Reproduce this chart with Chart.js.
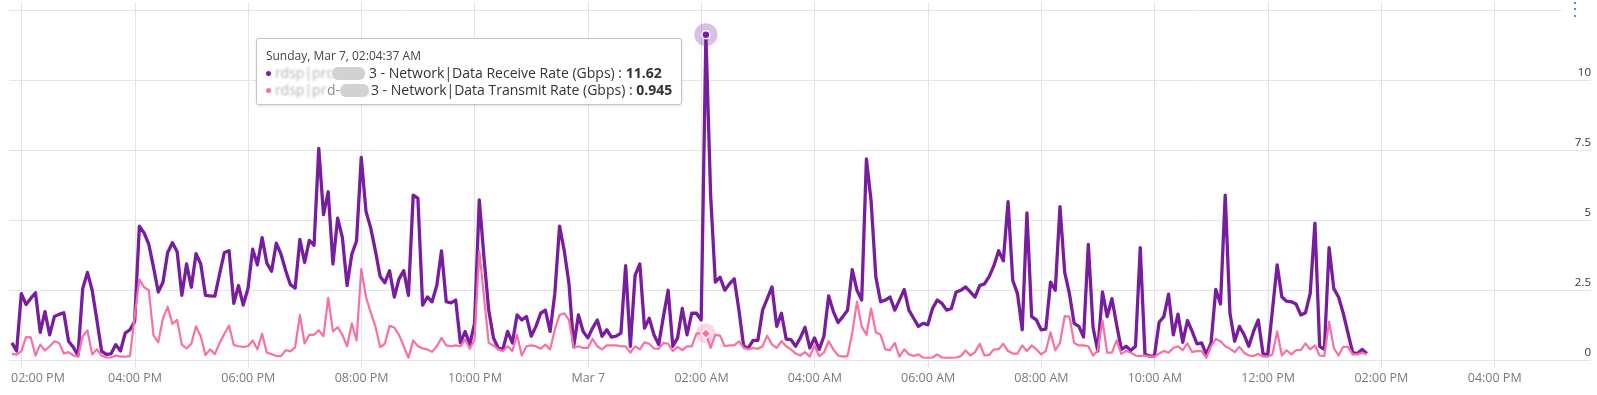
<!DOCTYPE html>
<html>
<head>
<meta charset="utf-8">
<title>Network data rate</title>
<script src="https://cdn.jsdelivr.net/npm/chart.js@4.4.1/dist/chart.umd.min.js"></script>
<style>
  html, body { margin: 0; padding: 0; background: #fff; }
  .chart-wrap { position: relative; width: 1597px; height: 395px; }
  .menu-btn { position: absolute; top: 0; left: 1562px; width: 35px; height: 19px; background: #fff; }
  .menu-btn span { position: absolute; left: 12px; width: 2.4px; height: 2.4px; border-radius: 50%; background: #0079b8; }
  #chart-tooltip {
    position: absolute; display: none; background: #fff;
    border: 1px solid #c4c4c4; border-radius: 3px;
    box-shadow: 0 1px 3px rgba(0, 0, 0, 0.12);
    padding: 9px 9px 6px 9px; white-space: nowrap; pointer-events: none;
    font-family: "Open Sans", sans-serif; color: #333;
  }
  .tt-title { font-size: 12px; line-height: 16px; color: #444; }
  .tt-row { font-size: 14px; line-height: 17px; }
  .tt-dot { display: inline-block; width: 5px; height: 5px; border-radius: 50%; margin-right: 4px; vertical-align: middle; position: relative; top: -1px; }
  .tt-blur { display: inline-block; overflow: hidden; vertical-align: bottom; color: #b4b4b4; filter: blur(1px); }
  .tt-soft { color: #8c8c8c; }
  .tt-mask { display: inline-block; height: 13px; border-radius: 6px; background: #d2d2d2; vertical-align: middle; position: relative; top: -1px; }
</style>
</head>
<body>
<div class="chart-wrap">
  <canvas id="rateChart"></canvas>
  <div class="menu-btn"><span style="top:2px"></span><span style="top:8px"></span><span style="top:14.5px"></span></div>
  <div id="chart-tooltip"></div>
</div>
<script>
// Network receive / transmit rate (Gbps), 5 minute samples starting Sat Mar 6, 01:49:37 PM

const START_SECONDS = 13 * 3600 + 49 * 60 + 37;
const STEP_SECONDS = 300;

const seriesNames = [
  "Network|Data Receive Rate (Gbps)",
  "Network|Data Transmit Rate (Gbps)",
];

const receiveGbps = [
  0.61, 0.32, 2.37, 1.98, 2.2, 2.4, 0.99, 1.73, 0.9, 1.55,
  1.63, 1.69, 0.67, 0.46, 0.16, 2.55, 3.13, 2.49, 1.43, 0.32,
  0.2, 0.22, 0.55, 0.32, 0.96, 1.08, 1.37, 4.78, 4.54, 4.13,
  3.31, 2.43, 2.78, 3.84, 4.19, 3.87, 2.31, 3.43, 2.6, 3.8,
  3.43, 2.31, 2.29, 2.28, 3.08, 3.84, 3.9, 2.02, 2.66, 1.96,
  2.55, 3.96, 3.4, 4.37, 3.46, 3.17, 4.17, 3.78, 3.19, 2.69,
  2.57, 4.31, 3.49, 4.27, 4.1, 7.56, 5.19, 6.01, 3.43, 5.07,
  4.37, 2.66, 3.78, 4.25, 7.24, 5.31, 4.72, 3.9, 2.98, 2.76,
  3.19, 2.25, 2.9,
  3.19, 2.31, 5.89, 5.77, 1.96, 2.25, 2.08, 2.66, 3.9, 2.08,
  2.04, 2.14, 0.61, 1.02, 0.55, 1.31, 5.72, 3.66, 1.78, 0.79,
  0.43, 0.38, 1.02, 0.61, 1.61, 1.43, 1.55, 0.85, 1.2, 1.67,
  1.78, 1.02, 2.37, 4.78, 3.9, 2.72, 0.49, 1.61, 1.02, 0.79,
  1.14, 1.43, 0.85, 1.08, 0.82, 0.85, 0.96, 3.37, 0.49, 3.02,
  3.43, 1.14, 1.49, 0.9, 0.55, 1.55, 2.49, 0.49, 0.79, 1.84,
  0.9, 1.67, 1.67, 1.43, 11.62, 5.89, 2.78, 2.96, 2.49, 2.72,
  2.9, 1.78, 0.49, 0.43, 0.7, 0.7,
  1.78, 2.19, 2.61, 1.2, 1.67, 0.75, 0.73, 0.49, 0.79, 1.17,
  0.43, 0.79, 0.38, 0.85, 2.29, 1.73, 1.34, 1.55, 1.78, 3.23,
  2.49, 2.14, 7.18, 5.66, 2.96, 2.08, 2.14, 2.25, 1.78, 2.14,
  2.52, 1.78, 1.49, 1.2, 1.31, 1.26, 1.84, 2.14, 2.02, 1.78,
  1.84, 2.43, 2.49, 2.61, 2.43, 2.25, 2.66, 2.72, 2.98, 3.37,
  3.9, 3.54, 5.66, 2.84, 2.37, 1.08, 5.25, 1.55, 1.43, 1.08,
  1.1, 2.78, 2.49, 5.48, 3.13, 2.37, 1.31, 1.2, 0.82, 4.13,
  1.17, 0.32, 2.43, 1.55, 2.19, 1.26, 0.38, 0.49, 0.34, 0.49,
  4.01, 0.2, 0.14, 0.14, 1.35, 1.55,
  2.35, 0.9, 1.64, 0.63, 1.41, 1.02, 0.58, 0.61, 0.2, 0.61,
  2.52, 2.0, 5.89, 1.67, 0.67, 1.2, 0.9, 0.49, 1.02, 1.43,
  0.23, 0.18, 1.78, 3.4, 2.25, 2.1, 2.08, 2.0, 1.61, 1.69,
  2.37, 4.89, 0.49, 0.38, 4.01, 2.55, 2.25, 1.67, 0.96, 0.26,
  0.23, 0.38, 0.23,
];

const transmitGbps = [
  0.22, 0.19, 0.32, 0.82, 0.81, 0.16, 0.55, 0.34, 0.49, 0.67,
  0.61, 0.23, 0.28, 0.16, 0.12, 0.85, 1.06, 0.2, 0.38, 0.16,
  0.09, 0.09, 0.16, 0.12, 0.12, 0.14, 1.55, 2.88, 2.6, 2.49,
  0.88, 0.63, 1.49, 1.9, 1.29, 1.43, 0.55, 0.41, 0.58, 1.2,
  0.85, 0.18, 0.38, 0.21, 0.61, 0.94, 1.23, 0.54, 0.49, 0.47,
  0.49, 0.7, 0.38, 0.94, 0.26, 0.21, 0.14, 0.14, 0.35, 0.31,
  0.46, 1.61, 0.59, 0.9, 0.9, 1.06, 0.85, 2.22, 1.02, 1.17,
  0.9, 0.49, 1.31, 0.7, 3.25, 2.25, 1.7, 1.2, 0.46, 0.58,
  1.22, 1.16, 0.9,
  0.49, 0.08, 0.7, 0.49, 0.41, 0.38, 0.29, 0.49, 0.79, 0.52,
  0.49, 0.52, 0.49, 0.73, 0.4, 0.73, 3.9, 2.25, 0.61, 0.52,
  0.38, 0.32, 0.49, 0.32, 0.9, 0.16, 0.49, 0.52, 0.49, 0.4,
  0.55, 0.38, 1.08, 1.61, 1.67, 1.43, 0.43, 0.49, 0.43, 0.43,
  0.75, 0.49, 0.38, 0.52, 0.52, 0.52, 0.49, 0.49, 0.26, 0.49,
  0.38, 0.63, 0.58, 0.41, 0.4, 0.61, 0.58, 0.32, 0.47, 0.35,
  0.49, 0.49, 0.94, 0.96, 0.945, 0.43, 0.9, 0.87, 0.49, 0.52,
  0.52, 0.67, 0.43, 0.38, 0.43, 0.4,
  0.49, 0.87, 0.55, 0.43, 0.67, 0.49, 0.38, 0.23, 0.16, 0.28,
  0.12, 0.52, 0.14, 0.26, 0.67, 0.38, 0.16, 0.12, 0.14, 0.96,
  2.08, 1.2, 0.9, 1.84, 0.99, 0.9, 0.38, 0.35, 0.61, 0.12,
  0.38, 0.2, 0.14, 0.2, 0.09, 0.08, 0.09, 0.2, 0.09, 0.08,
  0.08, 0.09, 0.14, 0.34, 0.16, 0.28, 0.58, 0.16, 0.18, 0.38,
  0.38, 0.58, 0.32, 0.23, 0.23, 0.52, 0.32, 0.52, 0.38, 0.2,
  0.32, 0.99, 0.35, 0.61, 1.57, 1.55, 0.61, 0.52, 0.52, 0.49,
  0.16, 0.34, 1.41, 0.26, 0.26, 0.7, 0.22, 0.32, 0.26, 0.16,
  0.14, 0.16, 0.12, 0.12, 0.23, 0.32,
  0.26, 0.43, 0.49, 0.35, 0.59, 0.28, 0.32, 0.32, 0.08, 0.49,
  0.75, 0.67, 0.49, 0.41, 0.28, 0.47, 0.26, 0.16, 0.14, 0.22,
  0.12, 0.12, 0.2, 1.02, 0.16, 0.35, 0.2, 0.35, 0.35, 0.59,
  0.38, 0.52, 0.16, 0.14, 1.37, 0.43, 0.16, 0.47, 0.47, 0.2,
  0.2, 0.26, 0.2,
];

// x axis in minutes from Mar 6 00:00, ticks every 2 hours from 02:00 PM
const X_MIN = 826.55;
const X_MAX = 2502;
const X_FIRST_TICK = 840;
const X_STEP = 120;
const Y_TICKS = [0, 2.5, 5, 7.5, 10, 12.5];
const Y_MAX = 12.8;

const HOVER_INDEX = 147;

const COLORS = ["#781da0", "#f870a5"];
const HALOS = ["rgba(120, 29, 160, 0.28)", "rgba(248, 112, 165, 0.3)"];

const DAYS = ["Sunday", "Monday", "Tuesday", "Wednesday", "Thursday", "Friday", "Saturday"];
const MONTHS = ["Jan", "Feb", "Mar", "Apr", "May", "Jun", "Jul", "Aug", "Sep", "Oct", "Nov", "Dec"];

const pad = (n) => String(n).padStart(2, "0");

const toDate = (minutes) => new Date(new Date(2021, 2, 6).getTime() + Math.round(minutes * 60) * 1000);

const clock = (d, withSeconds) => {
  const h = d.getHours() % 12 || 12;
  const s = withSeconds ? ":" + pad(d.getSeconds()) : "";
  return pad(h) + ":" + pad(d.getMinutes()) + s + (d.getHours() < 12 ? " AM" : " PM");
};

const tickLabel = (minutes) => {
  const d = toDate(minutes);
  if (d.getHours() === 0 && d.getMinutes() === 0) return MONTHS[d.getMonth()] + " " + d.getDate();
  return clock(d, false);
};

const fullLabel = (minutes) => {
  const d = toDate(minutes);
  return DAYS[d.getDay()] + ", " + MONTHS[d.getMonth()] + " " + d.getDate() + ", " + clock(d, true);
};

const toPoints = (values) => values.map((v, i) => ({ x: (START_SECONDS + i * STEP_SECONDS) / 60, y: v }));

// host names are masked in the tooltip
const hostMarkup = [
  '<span class="tt-blur" style="width:57px">rdsp|prd-wx</span><span class="tt-mask" style="width:33px;margin-right:4px"></span>3',
  '<span class="tt-blur" style="width:52px">rdsp|prd-</span><span class="tt-soft">d-</span><span class="tt-mask" style="width:29px;margin-right:2px"></span>3',
];

const externalTooltip = ({ chart, tooltip }) => {
  const el = document.getElementById("chart-tooltip");
  if (tooltip.opacity === 0 || !tooltip.dataPoints || !tooltip.dataPoints.length) {
    el.style.display = "none";
    return;
  }
  const pts = tooltip.dataPoints;
  let html = '<div class="tt-title">' + fullLabel(pts[0].parsed.x) + "</div>";
  pts.forEach((p) => {
    const i = p.datasetIndex;
    html += '<div class="tt-row"><span class="tt-dot" style="background:' + COLORS[i] + '"></span>' +
      hostMarkup[i] + " - " + seriesNames[i] + " : <b>" + (+p.parsed.y.toFixed(3)) + "</b></div>";
  });
  el.innerHTML = html;
  el.style.display = "block";
  const anchor = pts[0].element;
  el.style.left = anchor.x - 24 - el.offsetWidth + "px";
  el.style.top = anchor.y + 5 + "px";
};

// soft circle behind the hovered points
const hoverHalo = {
  id: "hoverHalo",
  beforeDatasetsDraw(chart) {
    const ctx = chart.ctx;
    chart.getActiveElements().forEach(({ datasetIndex, element }) => {
      ctx.save();
      ctx.fillStyle = HALOS[datasetIndex];
      ctx.beginPath();
      ctx.arc(element.x, element.y, datasetIndex === 0 ? 11.5 : 10, 0, Math.PI * 2);
      ctx.fill();
      ctx.restore();
    });
  },
};

Chart.defaults.font.family = "'Open Sans', sans-serif";

const ctx = document.getElementById("rateChart").getContext("2d");
const chart = new Chart(ctx, {
  type: "line",
  data: {
    datasets: [
      {
        label: seriesNames[0],
        data: toPoints(receiveGbps),
        borderColor: COLORS[0],
        backgroundColor: COLORS[0],
        borderWidth: 3.3,
        borderJoinStyle: "round",
        pointRadius: 0,
        pointHoverRadius: 4,
        pointHoverBackgroundColor: COLORS[0],
        pointHoverBorderColor: "#fff",
        pointHoverBorderWidth: 1.5,
        tension: 0,
        order: 1,
      },
      {
        label: seriesNames[1],
        data: toPoints(transmitGbps),
        borderColor: COLORS[1],
        backgroundColor: COLORS[1],
        borderWidth: 2.2,
        borderJoinStyle: "round",
        pointStyle: "rectRot",
        pointRadius: 0,
        pointHoverRadius: 5,
        pointHoverBackgroundColor: COLORS[1],
        pointHoverBorderColor: "#fff",
        pointHoverBorderWidth: 1.5,
        tension: 0,
        order: 0,
      },
    ],
  },
  options: {
    responsive: true,
    maintainAspectRatio: false,
    animation: false,
    events: [],
    layout: { padding: { left: 9, right: 6, top: 0, bottom: 6 } },
    plugins: {
      legend: { display: false },
      tooltip: { enabled: false, mode: "index", intersect: false, external: externalTooltip },
    },
    scales: {
      x: {
        type: "linear",
        min: X_MIN,
        max: X_MAX,
        border: { display: false },
        grid: { color: "#e2e5e9", lineWidth: 1, tickLength: 8 },
        afterBuildTicks: (scale) => {
          const ticks = [];
          for (let v = X_FIRST_TICK; v <= X_MAX; v += X_STEP) ticks.push({ value: v });
          scale.ticks = ticks;
        },
        ticks: {
          autoSkip: false,
          maxRotation: 0,
          padding: 3,
          color: "#7a7a7a",
          font: { size: 12.5 },
          // first label is pushed right so it stays on the canvas
          callback: (value, index) => (index === 0 ? " ".repeat(10) : "") + tickLabel(value),
        },
        afterFit: (scale) => {
          scale.paddingLeft = 0;
          scale.paddingRight = 0;
        },
      },
      y: {
        position: "right",
        min: 0,
        max: Y_MAX,
        border: { display: false },
        grid: { color: "#e2e5e9", lineWidth: 1, drawTicks: false },
        afterBuildTicks: (scale) => {
          scale.ticks = Y_TICKS.map((v) => ({ value: v }));
        },
        ticks: {
          mirror: true,
          padding: 0,
          labelOffset: -7,
          color: "#333",
          font: { size: 11.5 },
          callback: (value) => (value > 10 ? "" : String(value)),
        },
        afterFit: (scale) => {
          // labels sit inside the plot, so the axis itself takes no room
          scale.width = 0;
          scale.paddingTop = 0;
          scale.paddingBottom = 0;
        },
      },
    },
  },
  plugins: [hoverHalo],
});

const active = [
  { datasetIndex: 0, index: HOVER_INDEX },
  { datasetIndex: 1, index: HOVER_INDEX },
];
chart.setActiveElements(active);
const hoverPoint = chart.getDatasetMeta(0).data[HOVER_INDEX];
chart.tooltip.setActiveElements(active, { x: hoverPoint.x, y: hoverPoint.y });
chart.update();
</script>
</body>
</html>
